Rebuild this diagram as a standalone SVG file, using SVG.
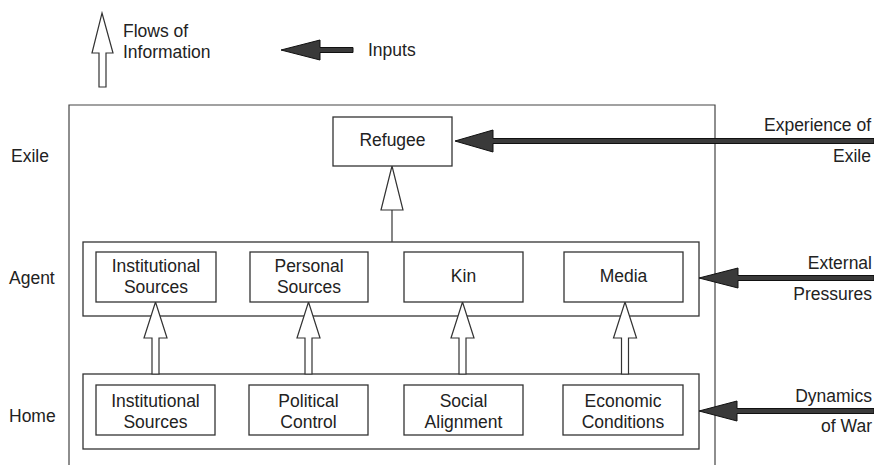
<svg xmlns="http://www.w3.org/2000/svg" width="874" height="465" viewBox="0 0 874 465">
<style>
text{font-family:"Liberation Sans",Arial,sans-serif;font-size:17.5px;fill:#222}
.c{text-anchor:middle}
.r{text-anchor:end}
.box{fill:#fff;stroke:#333;stroke-width:1.3}
.frame{fill:none;stroke:#444;stroke-width:1.2}
.flow{fill:#fff;stroke:#333;stroke-width:1.2}
.inp{fill:#3a3a3a;stroke:#111;stroke-width:1}
</style>
<rect width="874" height="465" fill="#fff"/>
<g id="legend">
<polygon class="flow" points="102,13 113,53 106,53 106,87 99,87 99,53 92,53"/>
<text x="123" y="37">Flows of</text>
<text x="123" y="58">Information</text>
<polygon class="inp" points="281,50 320,40 320,47.5 353,47.5 353,52.5 320,52.5 320,60"/>
<text x="368" y="56">Inputs</text>
</g>
<g id="frame">
<polyline class="frame" points="69,465 69,105 715,105 715,465"/>
</g>
<g id="levels">
<text x="11" y="162">Exile</text>
<text x="9" y="284">Agent</text>
<text x="9" y="422">Home</text>
</g>
<g id="agent-row"><rect class="box" x="83" y="242" width="616" height="74"/></g>
<g id="home-row"><rect class="box" x="83" y="374" width="616" height="75"/></g>
<g id="connectors">
<line x1="392" y1="210" x2="392" y2="242" stroke="#444" stroke-width="1.3"/>
<polygon class="flow" points="392,166 403,210 381,210"/>
<polygon class="flow" points="155.5,302 167,338 159,338 159,374 152,374 152,338 144,338"/>
<polygon class="flow" points="308.5,302 320,338 312,338 312,374 305,374 305,338 297,338"/>
<polygon class="flow" points="462.5,302 474,338 466,338 466,374 459,374 459,338 451,338"/>
<polygon class="flow" points="625,302 636.5,338 628.5,338 628.5,374 621.5,374 621.5,338 613.5,338"/>
<polygon class="inp" points="455,141 493,130 493,138.5 874,138.5 874,143.5 493,143.5 493,152"/>
<polygon class="inp" points="699,278 738,268 738,275.5 874,275.5 874,280.5 738,280.5 738,288"/>
<polygon class="inp" points="699,411 737,401 737,408.5 874,408.5 874,413.5 737,413.5 737,421"/>
</g>
<g id="refugee"><rect class="box" x="333" y="117" width="119" height="49"/><text class="c" x="392.5" y="146">Refugee</text></g>
<g id="agent-institutional"><rect class="box" x="96" y="252" width="120" height="50"/><text class="c" x="156" y="272">Institutional</text><text class="c" x="156" y="293">Sources</text></g>
<g id="agent-personal"><rect class="box" x="250" y="252" width="118" height="50"/><text class="c" x="309" y="272">Personal</text><text class="c" x="309" y="293">Sources</text></g>
<g id="agent-kin"><rect class="box" x="404" y="252" width="119" height="50"/><text class="c" x="463.5" y="282">Kin</text></g>
<g id="agent-media"><rect class="box" x="564" y="252" width="119" height="50"/><text class="c" x="623.5" y="282">Media</text></g>
<g id="home-institutional"><rect class="box" x="96" y="385" width="119" height="50"/><text class="c" x="155.5" y="407">Institutional</text><text class="c" x="155.5" y="428">Sources</text></g>
<g id="home-political"><rect class="box" x="249" y="385" width="119" height="50"/><text class="c" x="308.5" y="407">Political</text><text class="c" x="308.5" y="428">Control</text></g>
<g id="home-social"><rect class="box" x="404" y="385" width="119" height="50"/><text class="c" x="463.5" y="407">Social</text><text class="c" x="463.5" y="428">Alignment</text></g>
<g id="home-economic"><rect class="box" x="563" y="385" width="120" height="50"/><text class="c" x="623" y="407">Economic</text><text class="c" x="623" y="428">Conditions</text></g>
<g id="inputs-labels">
<text class="r" x="871" y="131">Experience of</text>
<text class="r" x="871" y="162">Exile</text>
<text class="r" x="872" y="269">External</text>
<text class="r" x="872" y="300">Pressures</text>
<text class="r" x="872" y="402">Dynamics</text>
<text class="r" x="872" y="432">of War</text>
</g>
</svg>
